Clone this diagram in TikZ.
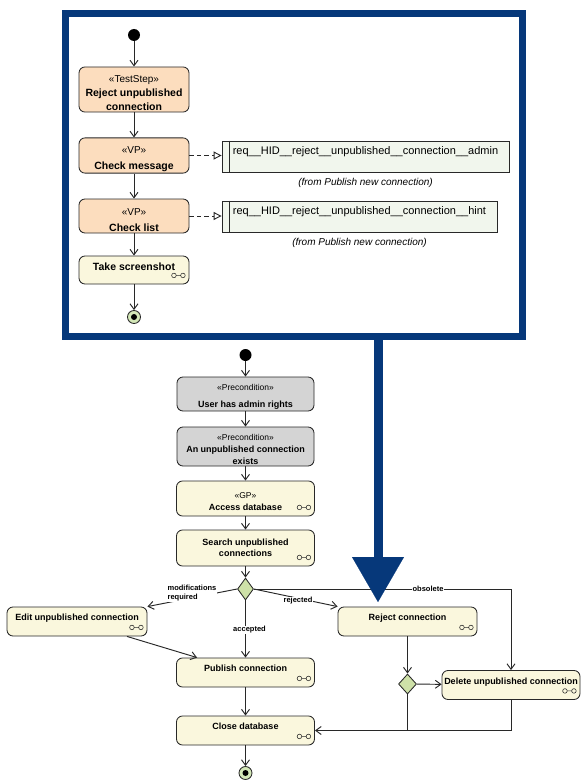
\documentclass[tikz,border=0pt]{standalone}
\usepackage{fontspec}
\setmainfont{Liberation Sans}
\usetikzlibrary{arrows.meta,positioning,calc,shapes.geometric}

\definecolor{navy}{RGB}{6,56,122}
\definecolor{peach}{RGB}{252,221,190}
\definecolor{cream}{RGB}{250,247,221}
\definecolor{greyfill}{RGB}{212,212,212}
\definecolor{reqfill}{RGB}{241,246,237}
\definecolor{decfill}{RGB}{206,225,168}
\definecolor{endfill}{RGB}{212,232,184}
\definecolor{edge}{RGB}{40,40,40}

% stereotypes, with a strut that pushes the block down a little
\newcommand{\stA}[1]{{\mdseries\fontsize{10}{14}\selectfont\rule{0pt}{15pt}«#1»}}
\newcommand{\stB}[1]{{\mdseries\fontsize{8.5}{12}\selectfont\rule{0pt}{12pt}«#1»}}

\tikzset{
  rake/.pic={
    \draw[edge, line width=0.55pt] (-4.5,0) circle (2.3pt) (4.5,0) circle (2.3pt) (-2.2,0) -- (2.2,0);
  }
}

\begin{document}
\begin{tikzpicture}[x=1pt,y=1pt,yscale=-1,
    box/.style={draw=edge, line width=0.85pt, rounded corners=6pt, align=center, inner sep=1pt},
    teststep/.style={box, fill=peach, minimum width=110pt, font=\fontsize{10.5}{14}\selectfont\bfseries},
    topaction/.style={box, fill=cream, minimum width=110pt, minimum height=28pt, text height=7.5pt, text depth=7pt, font=\fontsize{10.5}{13}\selectfont\bfseries},
    action/.style={box, fill=cream, minimum width=138pt, font=\fontsize{9}{11.5}\selectfont\bfseries},
    precond/.style={box, fill=greyfill, minimum width=137pt, font=\fontsize{9}{12}\selectfont\bfseries},
    oneline/.style={minimum height=29pt, text height=6.6pt, text depth=8pt},
    req/.style={draw=edge, line width=0.85pt, fill=reqfill, minimum height=31pt, inner sep=0pt, text height=8pt, text depth=12pt, font=\fontsize{11}{12}\selectfont},
    fromnote/.style={inner sep=0pt, font=\fontsize{10}{12}\selectfont\itshape},
    initial/.style={circle, fill=black, minimum size=12pt, inner sep=0pt},
    final/.style={circle, draw=edge, line width=0.85pt, fill=endfill, minimum size=13pt, inner sep=0pt,
      path picture={\fill[black] (path picture bounding box.center) circle (3pt);}},
    decision/.style={diamond, draw=edge, line width=0.85pt, fill=decfill, minimum width=16pt, minimum height=22pt, inner sep=0pt},
    flow/.style={draw=edge, line width=0.95pt, -{Straight Barb[length=5.5pt,width=8pt]}},
    mergeline/.style={draw=edge, line width=0.95pt},
    trace/.style={draw=edge, line width=0.95pt, dash pattern=on 4.5pt off 3pt, -{Triangle[open,length=8pt,width=8pt]}},
    guard/.style={fill=white, inner sep=0.5pt, align=left, font=\fontsize{7.5}{9}\selectfont\bfseries},
    frame/.style={draw=navy, line width=7pt, minimum width=457.5pt, minimum height=322.5pt, inner sep=0pt},
    bigarrow/.style={draw=navy, line width=9pt, -{Triangle[length=45pt,width=52pt,line width=0.1pt]}}
  ]
  \useasboundingbox (0,0) rectangle (585,784);

  % test case frame
  \node[frame] (frame) at (293.75,174.75) {};

  \node[initial] (start1) at (134,35) {};
  \node[teststep, minimum height=45pt] (rejectstep) at (134,89.5) {\stA{TestStep}\\Reject unpublished\\connection};
  \node[teststep, minimum height=35pt] (checkmsg) at (134,155.5) {\stA{VP}\\[2pt]Check message};
  \node[teststep, minimum height=34pt] (checklist) at (134,216) {\stA{VP}\\[2pt]Check list};
  \node[topaction] (shot) at (134,270) {Take screenshot};
  \node[final] (end1) at (134,317) {};

  \node[req, minimum width=287pt] (reqadmin) at (365.5,156.5) {req\_\_HID\_\_reject\_\_unpublished\_\_connection\_\_admin};
  \node[req, minimum width=275pt] (reqhint) at (359.5,216.5) {req\_\_HID\_\_reject\_\_unpublished\_\_connection\_\_hint};
  \draw[edge, line width=1.3pt] ($(reqadmin.north west)+(8,0)$) -- ($(reqadmin.south west)+(8,0)$);
  \draw[edge, line width=1.3pt] ($(reqhint.north west)+(8,0)$) -- ($(reqhint.south west)+(8,0)$);
  \node[fromnote, below=6pt of reqadmin] (fromadmin) {(from Publish new connection)};
  \node[fromnote, below=6pt of reqhint] (fromhint) {(from Publish new connection)};

  \draw[flow] (start1) -- (rejectstep);
  \draw[flow] (rejectstep) -- (checkmsg);
  \draw[flow] (checkmsg) -- (checklist);
  \draw[flow] (checklist) -- (shot);
  \draw[flow] (shot) -- (end1);
  \draw[trace] (checkmsg.east) -- (checkmsg.east -| reqadmin.west);
  \draw[trace] (checklist.east) -- (checklist.east -| reqhint.west);

  % main activity
  \node[initial] (start2) at (245.5,355) {};
  \node[precond, minimum height=34pt] (admin) at (245.5,394) {\stB{Precondition}\\[5pt]User has admin rights};
  \node[precond, minimum height=39pt] (exists) at (245.5,446.5) {\stB{Precondition}\\An unpublished connection\\exists};
  \node[action, minimum height=35pt] (access) at (245.5,498.5) {\stB{GP}\\Access database};
  \node[action, minimum height=36pt] (search) at (245.5,548) {Search unpublished\\connections};
  \node[decision] (choice) at (245.5,589) {};
  \node[action, oneline, minimum width=140pt] (edit) at (77,621.5) {Edit unpublished connection};
  \node[action, oneline] (publish) at (245.5,672.5) {Publish connection};
  \node[action, oneline] (close) at (245.5,730.5) {Close database};
  \node[final] (end2) at (245.5,773) {};
  \node[action, oneline, minimum width=139pt] (rejectconn) at (407.5,621.5) {Reject connection};
  \node[decision, minimum width=18pt, minimum height=20pt] (merge) at (407.5,684) {};
  \node[action, oneline, minimum width=138pt, inner sep=0pt] (delete) at (511,685) {Delete unpublished connection};

  \foreach \n in {shot,access,search,edit,publish,close,rejectconn,delete}
    \pic at ($(\n.south east)+(-11,-9)$) {rake};

  \draw[flow] (start2) -- (admin);
  \draw[flow] (admin) -- (exists);
  \draw[flow] (exists) -- (access);
  \draw[flow] (access) -- (search);
  \draw[flow] (search) -- (choice);
  \draw[flow] (choice.west) -- (edit.north east);
  \draw[flow] (choice.east) -- (rejectconn.north west);
  \draw[flow] (choice.east) -| (delete.north);
  \draw[flow] (choice) -- (publish);
  \draw[flow] ($(edit.south)+(50,0)$) -- ($(publish.north west)+(21,0)$);
  \draw[flow] (publish) -- (close);
  \draw[flow] (close) -- (end2);
  \draw[flow] (rejectconn) -- (merge);
  \draw[flow] (merge) -- (delete);
  \draw[flow] (delete.south) |- (close.east);
  \draw[mergeline] (merge.south) -- (merge.south |- close.east);

  \node[guard] (modlabel) at (192,593) {modifications\\required};
  \node[guard] (rejlabel) at (298,601) {rejected};
  \node[guard] (obslabel) at (428,589) {obsolete};
  \node[guard] (acclabel) at (249.5,630) {accepted};

  % link from test case to the action it refines
  \coordinate (bigtip) at (378,602);
  \draw[bigarrow] (frame.south -| bigtip) -- (bigtip);
\end{tikzpicture}
\end{document}
